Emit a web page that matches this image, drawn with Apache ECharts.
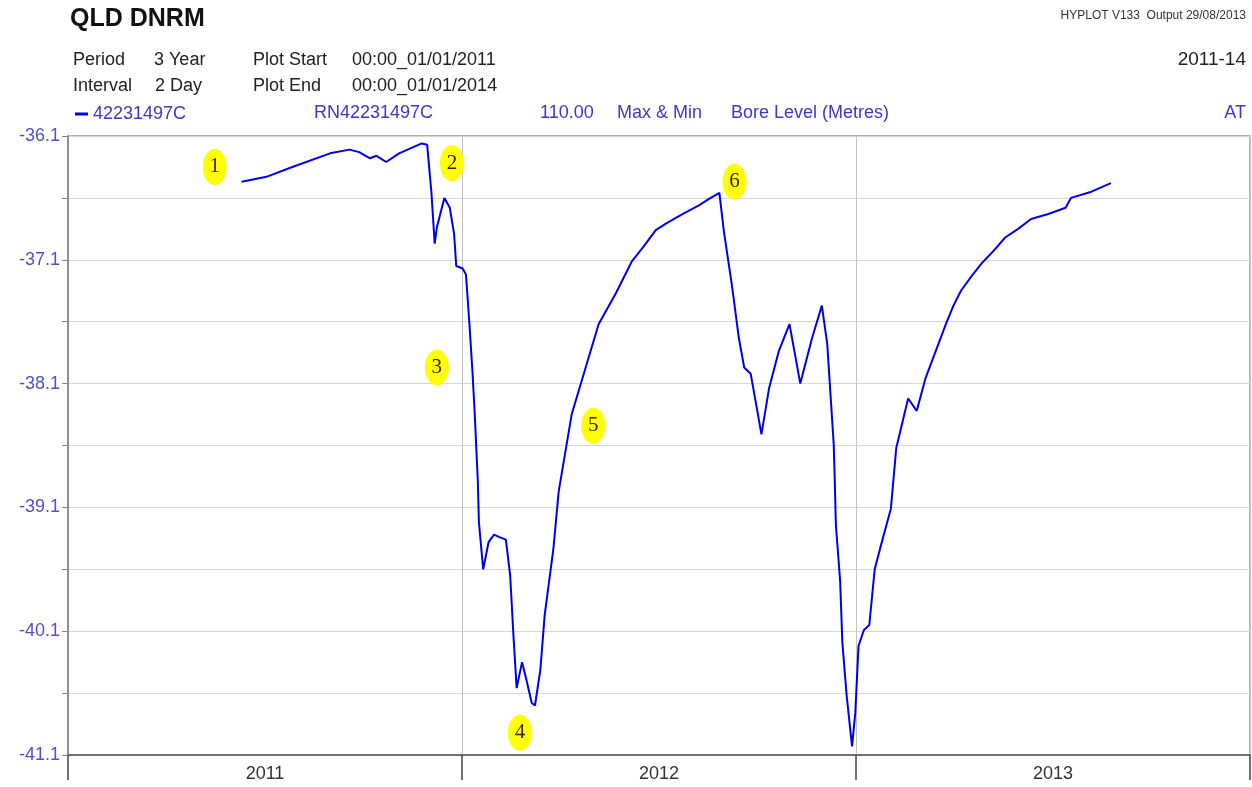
<!DOCTYPE html>
<html>
<head>
<meta charset="utf-8">
<title>QLD DNRM bore level</title>
<script src="https://cdn.jsdelivr.net/npm/echarts@6/dist/echarts.min.js"></script>
<style>
  html, body { margin: 0; padding: 0; background: #fff; }
  #chart { width: 1252px; height: 787px; }
</style>
</head>
<body>
<div id="chart"></div>
<script>
// bore 42231497C, readings taken off the plot
const dates = [
  "2011-06-11", "2011-07-04", "2011-07-28", "2011-09-01", "2011-09-19", "2011-09-28",
  "2011-10-08", "2011-10-14", "2011-10-23", "2011-11-04", "2011-11-25", "2011-11-30",
  "2011-12-04", "2011-12-07", "2011-12-09", "2011-12-16", "2011-12-21", "2011-12-25",
  "2011-12-27", "2012-01-02", "2012-01-05", "2012-01-08", "2012-01-11", "2012-01-13",
  "2012-01-16", "2012-01-17", "2012-01-21", "2012-01-26", "2012-01-31", "2012-02-05",
  "2012-02-11", "2012-02-15", "2012-02-18", "2012-02-21", "2012-02-26", "2012-03-01",
  "2012-03-06", "2012-03-09", "2012-03-14", "2012-03-18", "2012-03-26", "2012-03-31",
  "2012-04-12", "2012-04-25", "2012-05-07", "2012-05-23", "2012-06-07", "2012-06-18",
  "2012-06-29", "2012-07-08", "2012-07-18", "2012-07-28", "2012-08-08", "2012-08-17",
  "2012-08-27", "2012-08-31", "2012-09-08", "2012-09-14",
  "2012-09-19", "2012-09-25", "2012-10-05", "2012-10-12", "2012-10-21", "2012-10-31",
  "2012-11-10", "2012-11-21", "2012-11-30", "2012-12-05", "2012-12-11", "2012-12-12",
  "2012-12-13", "2012-12-17", "2012-12-19", "2012-12-23", "2012-12-28", "2012-12-31",
  "2013-01-03", "2013-01-08", "2013-01-13", "2013-01-18", "2013-01-24", "2013-02-02",
  "2013-02-07", "2013-02-18", "2013-02-26", "2013-03-06", "2013-03-25", "2013-04-01",
  "2013-04-08", "2013-04-18", "2013-04-27", "2013-05-08", "2013-05-19", "2013-05-31",
  "2013-06-12", "2013-06-28", "2013-07-14", "2013-07-19", "2013-08-07", "2013-08-25"
];
const levels = [
  -36.47, -36.43, -36.35, -36.24, -36.21, -36.23,
  -36.28, -36.26, -36.31, -36.24, -36.16, -36.17,
  -36.56, -36.97, -36.84, -36.60, -36.68, -36.89,
  -37.15, -37.17, -37.22, -37.59, -38.00, -38.32,
  -38.89, -39.22, -39.60, -39.38, -39.32, -39.34,
  -39.36, -39.65, -40.13, -40.56, -40.35, -40.49,
  -40.68, -40.70, -40.41, -39.97, -39.44, -38.97,
  -38.35, -37.97, -37.62, -37.37, -37.11, -36.99,
  -36.86, -36.81, -36.76, -36.71, -36.66, -36.61,
  -36.56, -36.86, -37.33, -37.73,
  -37.97, -38.02, -38.51, -38.14, -37.84, -37.62,
  -38.10, -37.73, -37.47, -37.78, -38.59, -38.89,
  -39.24, -39.70, -40.19, -40.62, -41.03, -40.76,
  -40.22, -40.09, -40.05, -39.60, -39.40, -39.11,
  -38.62, -38.22, -38.32, -38.06, -37.62, -37.47,
  -37.35, -37.23, -37.13, -37.03, -36.92, -36.85,
  -36.77, -36.73, -36.68, -36.60, -36.55, -36.48
];
const years = ["2011", "2012", "2013"];

// numbered callouts: label, date, level
const calloutNames = ["1", "2", "3", "4", "5", "6"];
const calloutDates = ["2011-05-17", "2011-12-23", "2011-12-09", "2012-02-24", "2012-05-02", "2012-09-10"];
const calloutLevels = [-36.35, -36.32, -37.97, -40.92, -38.44, -36.47];

const blue = "#3a3ac4";
const ink = "#222";
const font = "Liberation Sans, Arial, sans-serif";

const chart = echarts.init(document.getElementById("chart"));

const txt = (text, x, y, opts) => ({
  type: "text",
  x: x,
  y: y,
  style: Object.assign({
    text: text,
    fill: ink,
    font: "18px " + font,
    textVerticalAlign: "middle"
  }, opts || {})
});

chart.setOption({
  animation: false,
  grid: {
    left: 68,
    right: 2,
    top: 136,
    bottom: 32,
    show: true,
    borderColor: "#9a9a9a",
    borderWidth: 1.5
  },
  legend: {
    data: ["42231497C"],
    left: 70,
    top: 100,
    icon: "rect",
    itemWidth: 13,
    itemHeight: 3,
    itemGap: 6,
    textStyle: { color: blue, fontSize: 18, fontFamily: font }
  },
  graphic: [
    txt("QLD DNRM", 70, 19, { font: "bold 25px " + font, fill: "#111" }),
    txt("HYPLOT V133  Output 29/08/2013", 1246, 16, { font: "12px " + font, textAlign: "right", fill: "#333" }),
    txt("Period", 73, 60),
    txt("3 Year", 154, 60),
    txt("Interval", 73, 86),
    txt("2 Day", 155, 86),
    txt("Plot Start", 253, 60),
    txt("00:00_01/01/2011", 352, 60),
    txt("Plot End", 253, 86),
    txt("00:00_01/01/2014", 352, 86),
    txt("2011-14", 1246, 60, { font: "19px " + font, textAlign: "right" }),
    txt("RN42231497C", 314, 113, { fill: blue }),
    txt("110.00", 540, 113, { fill: blue }),
    txt("Max & Min", 617, 113, { fill: blue }),
    txt("Bore Level (Metres)", 731, 113, { fill: blue }),
    txt("AT", 1246, 113, { fill: blue, textAlign: "right" })
  ],
  xAxis: [
    {
      type: "time",
      min: "2011-01-01",
      max: "2014-01-01",
      show: false
    },
    {
      type: "category",
      data: years,
      position: "bottom",
      boundaryGap: true,
      axisLine: { show: true, lineStyle: { color: "#707070", width: 2 } },
      axisTick: { show: true, inside: false, length: 25, interval: 0, lineStyle: { color: "#444", width: 1.5 } },
      splitLine: { show: true, interval: 0, lineStyle: { color: "#c4c4c4", width: 1 } },
      axisLabel: { color: "#333", fontSize: 18, fontFamily: font, margin: 10 }
    }
  ],
  yAxis: {
    type: "value",
    min: -41.1,
    max: -36.1,
    interval: 0.5,
    axisLine: { show: true, lineStyle: { color: "#808080", width: 1.5 } },
    axisTick: { show: true, length: 6, lineStyle: { color: "#888" } },
    splitLine: { lineStyle: { color: "#d6d6d6", width: 1 } },
    axisLabel: {
      color: "#5050c8",
      fontSize: 18,
      fontFamily: font,
      margin: 8,
      formatter: (v, i) => (i % 2 === 0 ? v.toFixed(1) : "")
    }
  },
  series: [
    {
      name: "42231497C",
      type: "line",
      xAxisIndex: 0,
      showSymbol: false,
      symbol: "none",
      itemStyle: { color: "#0000e8" },
      lineStyle: { color: "#0000e8", width: 2 },
      data: dates.map((d, i) => [d, levels[i]]),
      markPoint: {
        symbol: "path://M50,0A50,50,0,1,1,50,100A50,50,0,1,1,50,0Z",
        symbolSize: [24, 36],
        itemStyle: { color: "#ffff00" },
        label: {
          show: true,
          formatter: "{b}",
          color: "#3a2400",
          fontSize: 21,
          fontFamily: "Liberation Serif, Times New Roman, serif"
        },
        data: calloutNames.map((n, i) => ({
          name: n,
          coord: [calloutDates[i], calloutLevels[i]]
        }))
      }
    }
  ]
});
</script>
</body>
</html>
